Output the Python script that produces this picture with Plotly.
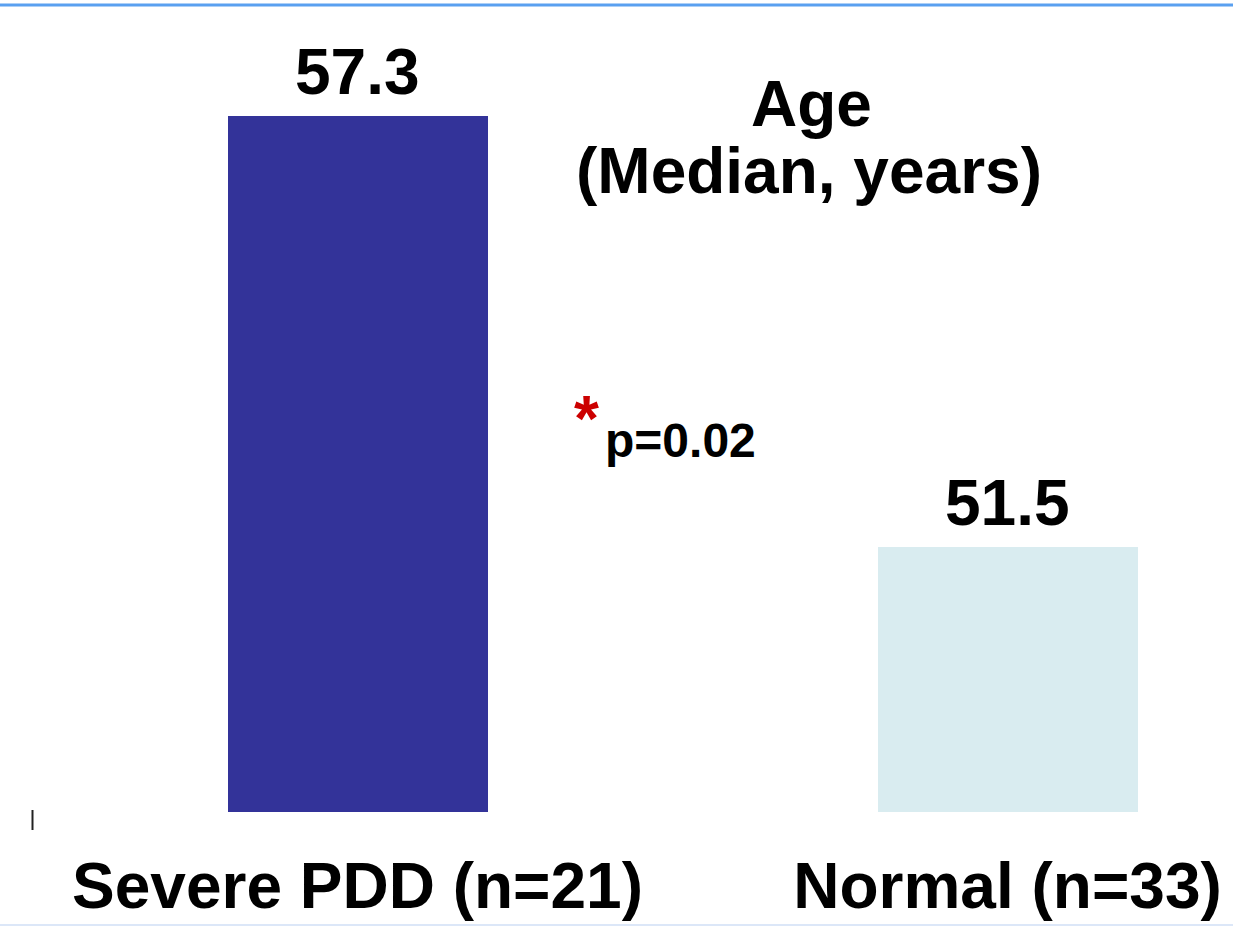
import plotly.graph_objects as go

# ---- data ----
categories = ["Severe PDD (n=21)", "Normal (n=33)"]
median_age = [57.3, 51.5]
value_labels = ["57.3", "51.5"]
bar_colors = ["#333399", "#d9ecf0"]
title_lines = ["Age", "(Median, years)"]
p_label = "p=0.02"

W, H = 1233, 927
PLOT_BOTTOM = 812          # pixel row of the axis baseline
X_LO, X_HI = -0.55, 1.3469
Y_LO, Y_HI = 47.94, 58.86

def px_to_x(px):
    return X_LO + px / W * (X_HI - X_LO)

def py_to_y(py):
    return Y_HI - py / PLOT_BOTTOM * (Y_HI - Y_LO)

FONT = "Liberation Sans, Arial, Helvetica, sans-serif"
BIG = 64

fig = go.Figure(
    go.Bar(
        x=list(range(len(categories))),
        y=median_age,
        width=0.4,
        marker=dict(color=bar_colors, line=dict(width=0)),
        hoverinfo="skip",
    )
)

annotations = [
    dict(x=i, y=v, xref="x", yref="y", text=lbl, showarrow=False,
         xanchor="center", yanchor="bottom", yshift=6,
         font=dict(family=FONT, size=BIG, color="black", weight="bold"))
    for i, (v, lbl) in enumerate(zip(median_age, value_labels))
]
annotations += [
    dict(x=px_to_x(811), y=py_to_y(104), xref="x", yref="y", text=title_lines[0],
         showarrow=False, xanchor="center", yanchor="middle",
         font=dict(family=FONT, size=BIG, color="black", weight="bold")),
    dict(x=px_to_x(809), y=py_to_y(171), xref="x", yref="y", text=title_lines[1],
         showarrow=False, xanchor="center", yanchor="middle",
         font=dict(family=FONT, size=BIG, color="black", weight="bold")),
    dict(x=px_to_x(680), y=py_to_y(440), xref="x", yref="y", text=p_label,
         showarrow=False, xanchor="center", yanchor="middle",
         font=dict(family=FONT, size=48, color="black", weight="bold")),
    dict(x=px_to_x(586), y=py_to_y(419), xref="x", yref="y", text="*",
         showarrow=False, xanchor="center", yanchor="middle",
         font=dict(family=FONT, size=64, color="#cc0000", weight="bold")),
]

fig.update_layout(
    width=W, height=H,
    margin=dict(l=0, r=0, t=0, b=H - PLOT_BOTTOM, pad=0),
    paper_bgcolor="white", plot_bgcolor="white",
    showlegend=False,
    bargap=0,
    xaxis=dict(
        range=[X_LO, X_HI],
        tickvals=list(range(len(categories))),
        ticktext=categories,
        tickfont=dict(family=FONT, size=BIG, color="black", weight="bold"),
        showgrid=False, zeroline=False, showline=False, ticks="",
        ticklabelstandoff=31,
    ),
    yaxis=dict(range=[Y_LO, Y_HI], visible=False, showgrid=False, zeroline=False),
    annotations=annotations,
    shapes=[
        dict(type="line", xref="paper", yref="paper", x0=0, x1=1,
             y0=(PLOT_BOTTOM - 5) / PLOT_BOTTOM, y1=(PLOT_BOTTOM - 5) / PLOT_BOTTOM,
             line=dict(color="#5aa0f0", width=3)),
        dict(type="line", xref="paper", yref="paper", x0=0, x1=1,
             y0=(PLOT_BOTTOM - 925) / PLOT_BOTTOM, y1=(PLOT_BOTTOM - 925) / PLOT_BOTTOM,
             line=dict(color="#dce7f8", width=2)),
        dict(type="line", xref="x", yref="paper", x0=-0.5, x1=-0.5,
             y0=(PLOT_BOTTOM - 810) / PLOT_BOTTOM, y1=(PLOT_BOTTOM - 830) / PLOT_BOTTOM,
             line=dict(color="#222222", width=2)),
    ],
)

fig.write_html(
    "out.html",
    config={"displayModeBar": False},
    post_script="document.body.style.margin='0';document.body.style.overflow='hidden';",
)
